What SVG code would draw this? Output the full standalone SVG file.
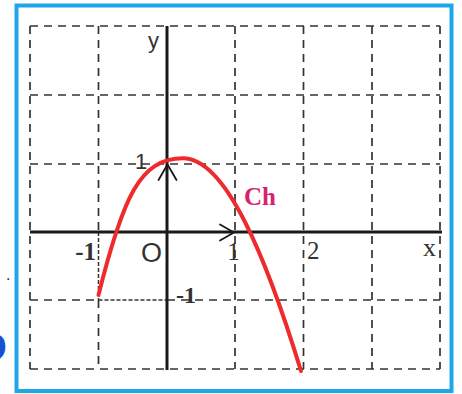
<svg xmlns="http://www.w3.org/2000/svg" width="462" height="394" viewBox="0 0 462 394">
  <style>
    .grid { stroke: #333333; stroke-width: 1.7; stroke-dasharray: 8 6; fill: none; }
    .proj { stroke: #333333; stroke-width: 1.5; stroke-dasharray: 4 2; fill: none; }
    .axis { stroke: #1a1a1a; stroke-width: 3; fill: none; }
    .vec { stroke: #1a1a1a; stroke-width: 1.8; fill: none; stroke-linecap: round; stroke-linejoin: round; }
    .curve { stroke: #ee2a2c; stroke-width: 4; fill: none; stroke-linecap: round; }
    .lbl { font-family: "Liberation Sans", Arial, sans-serif; fill: #333333; }
    .num { font-family: "Liberation Serif", "Times New Roman", serif; fill: #333333; }
  </style>
  <rect width="462" height="394" fill="#ffffff"/>
  <rect x="16.5" y="5.5" width="435" height="385.5" fill="none" stroke="#1fa6ea" stroke-width="4"/>

  <g id="grid">
    <line class="grid" x1="30" y1="26" x2="30" y2="369"/>
    <line class="grid" x1="98.5" y1="26" x2="98.5" y2="232"/>
    <line class="grid" x1="98.5" y1="300" x2="98.5" y2="369"/>
    <line class="grid" x1="235" y1="26" x2="235" y2="369"/>
    <line class="grid" x1="303.5" y1="26" x2="303.5" y2="369"/>
    <line class="grid" x1="372" y1="26" x2="372" y2="369"/>
    <line class="grid" x1="440" y1="26" x2="440" y2="369"/>
    <line class="grid" x1="30" y1="26" x2="440" y2="26"/>
    <line class="grid" x1="30" y1="95" x2="440" y2="95"/>
    <line class="grid" x1="30" y1="164" x2="440" y2="164"/>
    <line class="grid" x1="30" y1="300" x2="98.5" y2="300"/>
    <line class="grid" x1="167" y1="300" x2="440" y2="300"/>
    <line class="grid" x1="30" y1="369" x2="440" y2="369"/>
    <line class="proj" x1="98.5" y1="232" x2="98.5" y2="300"/>
    <line class="proj" x1="98.5" y1="300" x2="167" y2="300"/>
  </g>

  <g id="axes">
    <line class="axis" x1="30" y1="232" x2="442" y2="232"/>
    <line class="axis" x1="167" y1="26" x2="167" y2="370"/>
    <polyline class="vec" points="158.5,180 167.5,164.5 176.5,180"/>
    <polyline class="vec" points="220,224.5 234,232.5 220,240.5"/>
  </g>

  <g id="curve-Ch">
    <path class="curve" d="M98.5,295 C122.9,197.4 140,158.3 183,158.3 C225.8,158.3 266.2,257.2 301,371"/>
  </g>

  <g id="labels">
    <text class="lbl" x="148" y="48" font-size="22">y</text>
    <text class="lbl" x="135" y="168.5" font-size="22">1</text>
    <text class="lbl" x="141" y="262" font-size="27">O</text>
    <text class="num" x="96" y="259.5" font-size="25" text-anchor="end" font-weight="bold">-1</text>
    <text class="num" x="233.5" y="260" font-size="25" text-anchor="middle">1</text>
    <text class="num" x="307" y="259" font-size="25">2</text>
    <text class="num" x="423" y="256" font-size="26">x</text>
    <text class="num" x="176" y="302.5" font-size="24" font-weight="bold">-1</text>
    <text x="244" y="205" font-family="'Liberation Serif', 'Times New Roman', serif" font-size="25" font-weight="bold" fill="#d42470">Ch</text>
  </g>

  <g id="margin">
    <text x="6" y="280" font-family="'Liberation Sans', Arial, sans-serif" font-size="16" fill="#4a1a2a">.</text>
    <text x="-22" y="361" font-family="'Liberation Sans', Arial, sans-serif" font-size="40" font-weight="bold" fill="#1a4fd0">D</text>
  </g>
</svg>
